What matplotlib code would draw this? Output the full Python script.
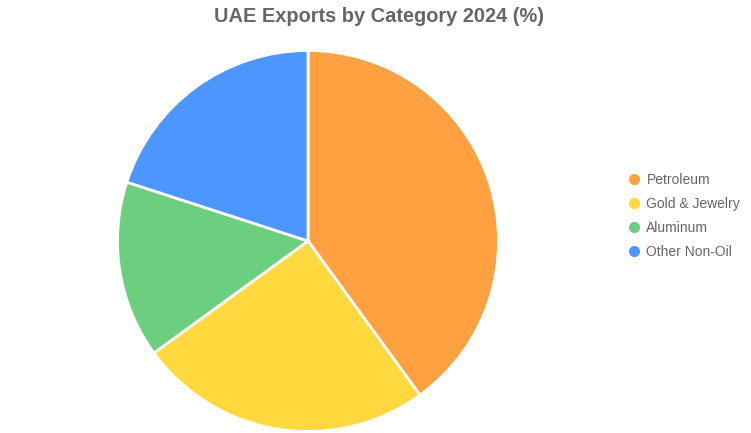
import matplotlib
matplotlib.use("Agg")
import matplotlib.pyplot as plt
from matplotlib.lines import Line2D

plt.rcParams["font.family"] = ["Liberation Sans", "DejaVu Sans"]

# Chart data
categories = ["Petroleum", "Gold & Jewelry", "Aluminum", "Other Non-Oil"]
shares = [40, 25, 15, 20]
colors = ["#FFA041", "#FFD93D", "#6BCF7F", "#4D96FF"]

W, H = 751, 433
fig = plt.figure(figsize=(W / 100, H / 100), dpi=100)

# Pie axes: centre (308, 241), radius ~190 px
cx, cy, r = 308, 241, 190.5
ax = fig.add_axes([(cx - r) / W, (H - cy - r) / H, 2 * r / W, 2 * r / H])
ax.pie(shares, colors=colors, startangle=90, counterclock=False,
       wedgeprops=dict(edgecolor="white", linewidth=2))
ax.set_xlim(-1, 1)
ax.set_ylim(-1, 1)
ax.set_aspect("equal")
ax.axis("off")

fig.text(378.5 / W, 1 - 17 / H, "UAE Exports by Category 2024 (%)",
         ha="center", va="center", fontsize=14.4, fontweight="bold", color="#666666")

handles = [Line2D([], [], marker="o", linestyle="none", markersize=7,
                  markerfacecolor=c, markeredgecolor=c) for c in colors]
fig.legend(handles, categories, loc="center left",
           bbox_to_anchor=(620 / W, 1 - 216 / H), frameon=False,
           fontsize=10, labelcolor="#666666", labelspacing=0.72,
           handletextpad=0.3, handlelength=1.2, borderaxespad=0)

fig.savefig("out.png", dpi=100)
